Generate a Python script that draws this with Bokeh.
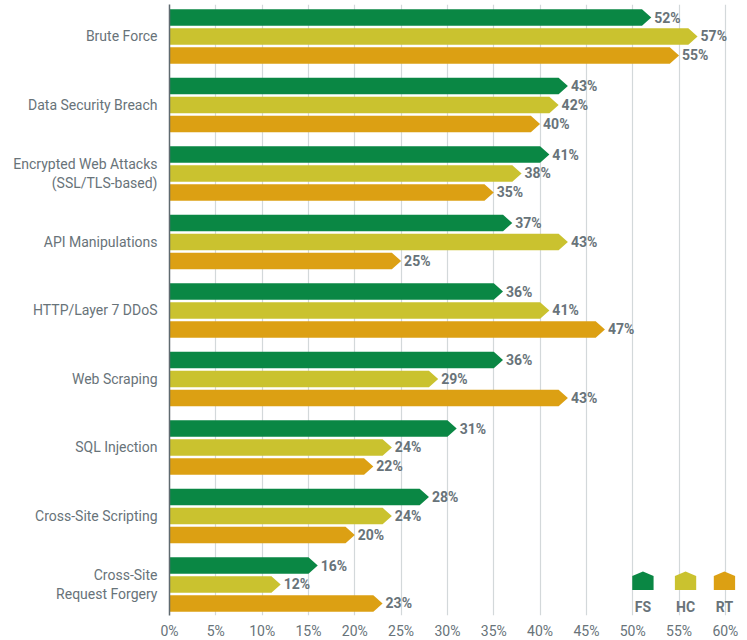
from bokeh.plotting import figure
from bokeh.models import Range1d, FixedTicker
from bokeh.core.properties import value
from bokeh.embed import file_html
from bokeh.resources import INLINE

categories = ["Brute Force", "Data Security Breach", "Encrypted Web Attacks\n(SSL/TLS-based)",
              "API Manipulations", "HTTP/Layer 7 DDoS", "Web Scraping", "SQL Injection",
              "Cross-Site Scripting", "Cross-Site\nRequest Forgery"]
series_names = ["FS", "HC", "RT"]
fs_values = [52, 43, 41, 37, 36, 36, 31, 28, 16]
hc_values = [57, 42, 38, 43, 41, 29, 24, 24, 12]
rt_values = [55, 40, 35, 25, 47, 43, 22, 20, 23]
x_ticks = list(range(0, 61, 5))

colors = ["#0a8744", "#cac22f", "#dca013"]
TEXT = "#687379"
FONT = "Roboto"

p = figure(frame_width=567, frame_height=611, output_backend="svg", toolbar_location=None,
           x_range=Range1d(0, 61.2), y_range=Range1d(8.4526, -0.467),
           min_border_left=169, min_border_right=11, min_border_top=4, min_border_bottom=25)
p.outline_line_color = None
p.background_fill_color = "white"

offsets = [-0.277, 0.0, 0.277]
bar_h = 0.24
tip = 1.0
xs, ys, fills, lx, ly, lt = [], [], [], [], [], []
for s, vals in enumerate([fs_values, hc_values, rt_values]):
    for i, v in enumerate(vals):
        yc = i + offsets[s]
        xs.append([0, v - tip, v, v - tip, 0])
        ys.append([yc - bar_h / 2, yc - bar_h / 2, yc, yc + bar_h / 2, yc + bar_h / 2])
        fills.append(colors[s])
        lx.append(v)
        ly.append(yc)
        lt.append(f"{v}%")

p.patches(xs=xs, ys=ys, fill_color=fills, line_color=None)
p.text(x=lx, y=ly, text=lt, x_offset=3, text_font=value(FONT), text_font_style="bold",
       text_font_size="14px", text_color=TEXT, text_align="left", text_baseline="middle")

# legend (house-shaped markers)
leg_x = [51.1, 55.7, 59.9]
leg_w = 2.3
lxs, lys = [], []
for cx in leg_x:
    lxs.append([cx - leg_w / 2, cx - leg_w / 2, cx, cx + leg_w / 2, cx + leg_w / 2])
    lys.append([8.08, 7.875, 7.81, 7.875, 8.08])
p.patches(xs=lxs, ys=lys, fill_color=colors, line_color=None)
p.text(x=leg_x, y=[8.33] * 3, text=series_names, text_font=value(FONT), text_font_style="bold",
       text_font_size="14px", text_color=TEXT, text_align="center", text_baseline="alphabetic")

# axes
p.yaxis.ticker = FixedTicker(ticks=list(range(len(categories))))
p.yaxis.major_label_overrides = {i: c for i, c in enumerate(categories)}
p.yaxis.major_tick_line_color = None
p.yaxis.major_tick_out = 0
p.yaxis.major_tick_in = 0
p.yaxis.minor_tick_line_color = None
p.yaxis.axis_line_color = "#5f6a70"
p.yaxis.axis_line_width = 1.5
p.yaxis.major_label_standoff = 12
p.yaxis.major_label_text_font = FONT
p.yaxis.major_label_text_font_size = "14px"
p.yaxis.major_label_text_color = TEXT

p.xaxis.ticker = FixedTicker(ticks=x_ticks)
p.xaxis.major_label_overrides = {t: f"{t}%" for t in x_ticks}
p.xaxis.axis_line_color = None
p.xaxis.major_tick_line_color = None
p.xaxis.major_tick_out = 0
p.xaxis.major_tick_in = 0
p.xaxis.minor_tick_line_color = None
p.xaxis.major_label_standoff = 7
p.xaxis.major_label_text_font = FONT
p.xaxis.major_label_text_font_size = "14px"
p.xaxis.major_label_text_color = TEXT

p.xgrid.grid_line_color = "#d3d8da"
p.xgrid.grid_line_width = 1.2
p.ygrid.grid_line_color = None

open("out.html", "w").write(file_html(p, INLINE))
